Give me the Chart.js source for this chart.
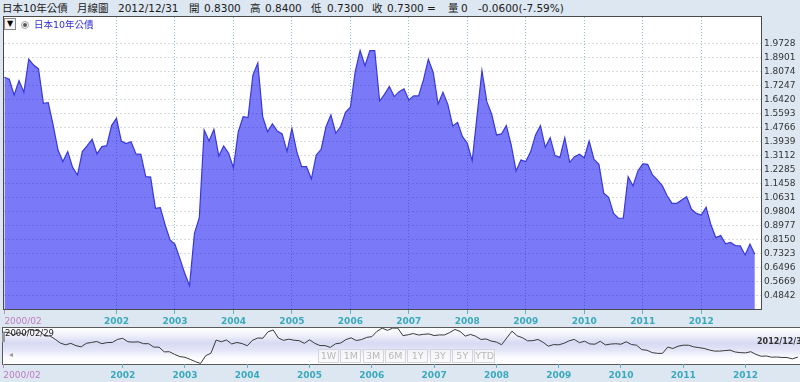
<!DOCTYPE html>
<html>
<head>
<meta charset="utf-8">
<script src="https://cdn.jsdelivr.net/npm/chart.js@4.4.0/dist/chart.umd.min.js"></script>
<style>
  body { margin: 0; width: 800px; height: 382px; overflow: hidden; position: relative;
         background: #dde7f1; font-family: 'DejaVu Sans', 'Noto Sans CJK TC', sans-serif; }
  .abs { position: absolute; white-space: nowrap; }
  #head span { position: absolute; top: 0; line-height: 17px; font-size: 10.5px; color: #1a1a1a; }
  #main { position: absolute; left: 0; top: 0; }
  #navBox { position: absolute; left: 2px; top: 327px; width: 800px; height: 36px; border: 1px solid #5a5a5a;
            background: linear-gradient(to bottom, #ffffff 0%, #f2f3fb 18%, #d6daf3 42%, #e4e6f7 62%, #fbfbfe 82%, #ffffff 100%); }
  #nav { position: absolute; left: 0; top: 326px; }
  .btn { position: absolute; top: 349px; width: 19px; height: 12px; border: 1px solid #d2d6dc; background: rgba(248,248,250,0.7);
         color: #b8b8b8; font-size: 9.5px; line-height: 12px; text-align: center; }
</style>
</head>
<body>
<div id="head"></div>
<canvas id="main" width="800" height="332"></canvas>

<!-- leyenda -->
<div class="abs" style="left:4px;top:18px;width:10px;height:10px;border:1px solid #8a8a8a;background:#f4f4f4;font-size:8px;line-height:10px;text-align:center;color:#000;">▼</div>
<div class="abs" style="left:21px;top:21px;width:6px;height:6px;border:1px solid #a0a0a0;border-radius:50%;background:#fff;"></div>
<div class="abs" style="left:23px;top:23px;width:4px;height:4px;border-radius:50%;background:#555;"></div>
<div class="abs" id="legendText" style="left:34px;top:18px;font-size:9.5px;line-height:14px;color:#2f2fd0;"></div>

<!-- navegador -->
<div id="navBox"></div>
<canvas id="nav" width="800" height="56"></canvas>
<div class="abs" id="navStart" style="left:5px;top:328px;font-size:8.5px;color:#222;"></div>
<div class="abs" id="navEnd" style="left:757px;top:337px;font-size:8px;font-weight:bold;color:#333;"></div>
<div class="abs" style="left:2px;top:333px;width:3px;height:9px;background:#999;"></div>
<div class="abs" style="left:9px;top:350px;font-size:8px;color:#999;">◂</div>
<div id="buttons"></div>

<script>
// Datos del gráfico
const seriesName = '日本10年公債';
const firstMonth = '2000/02';
const startDate = '2000/02/29';
const endDate = '2012/12/31';
const yearTicks = [2002, 2003, 2004, 2005, 2006, 2007, 2008, 2009, 2010, 2011, 2012];
const yTickValues = [0.4842, 0.5669, 0.6496, 0.7323, 0.8150, 0.8977, 0.9804, 1.0631, 1.1458,
  1.2285, 1.3112, 1.3939, 1.4766, 1.5593, 1.6420, 1.7247, 1.8074, 1.8901, 1.9728];
const rangeButtons = ['1W', '1M', '3M', '6M', '1Y', '3Y', '5Y', 'YTD'];

// Cierre mensual (2000/02 .. 2012/12)
const monthlyClose = [
  1.773, 1.761, 1.668, 1.753, 1.684, 1.879, 1.845, 1.822, 1.619, 1.623, 1.492,
  1.344, 1.276, 1.335, 1.242, 1.197, 1.335, 1.370, 1.407, 1.321, 1.364, 1.370, 1.488,
  1.531, 1.397, 1.382, 1.393, 1.321, 1.319, 1.187, 1.185, 1.001, 1.005, 0.902, 0.814,
  0.789, 0.706, 0.618, 0.545, 0.853, 0.946, 1.462, 1.397, 1.466, 1.309, 1.368, 1.325,
  1.240, 1.452, 1.541, 1.535, 1.786, 1.857, 1.541, 1.452, 1.498, 1.456, 1.439, 1.335,
  1.472, 1.335, 1.246, 1.246, 1.174, 1.315, 1.348, 1.482, 1.551, 1.443, 1.482, 1.566,
  1.596, 1.806, 1.930, 1.841, 1.930, 1.930, 1.633, 1.672, 1.718, 1.659, 1.688, 1.704,
  1.639, 1.663, 1.663, 1.757, 1.879, 1.802, 1.615, 1.684, 1.613, 1.486, 1.507, 1.423,
  1.384, 1.280, 1.547, 1.812, 1.629, 1.555, 1.433, 1.439, 1.488, 1.374, 1.221, 1.285,
  1.276, 1.335, 1.433, 1.488, 1.360, 1.417, 1.311, 1.301, 1.417, 1.272, 1.305, 1.319,
  1.299, 1.397, 1.289, 1.260, 1.089, 1.065, 0.971, 0.942, 0.942, 1.187, 1.132, 1.221,
  1.262, 1.260, 1.197, 1.168, 1.134, 1.075, 1.030, 1.030, 1.050, 1.069, 0.995, 0.971,
  0.961, 1.007, 0.902, 0.828, 0.840, 0.791, 0.800, 0.781, 0.779, 0.726, 0.789, 0.730
];

// Cabecera
const headTokens = [
  ['日本10年公債', 2], ['月線圖', 77], ['2012/12/31', 118], ['開', 189], ['0.8300', 204],
  ['高', 250], ['0.8400', 265], ['低', 311], ['0.7300', 327], ['收', 372], ['0.7300 =', 387],
  ['量', 448], ['0', 461], ['-0.0600(-7.59%)', 478]
];

Chart.defaults.font.family = "'DejaVu Sans', 'Noto Sans CJK TC', sans-serif";

document.getElementById('head').innerHTML = headTokens
  .map(t => `<span style="left:${t[1]}px">${t[0]}</span>`).join('');
document.getElementById('legendText').textContent = seriesName;
document.getElementById('navStart').textContent = startDate;
document.getElementById('navEnd').textContent = endDate;
document.getElementById('buttons').innerHTML = rangeButtons
  .map((b, k) => `<div class="btn" style="left:${318 + k * 22.3}px">${b}</div>`).join('');

// Índices de meses para el eje X
const monthIndex = y => (y - 2000) * 12 - 1;
const points = monthlyClose.map((v, i) => ({ x: i, y: v }));

function xTicks(max) {
  const vals = [0].concat(yearTicks.map(monthIndex), [max]);
  const labels = [firstMonth].concat(yearTicks.map(String), ['']);
  return { vals, labels };
}

function xAxis(min, max, height, gridOn) {
  const t = xTicks(max);
  const last = t.vals.length - 1;
  return {
    type: 'linear', min, max,
    afterBuildTicks: s => { s.ticks = t.vals.map(v => ({ value: v })); },
    afterFit: s => { s.height = height; },
    border: { display: false, dash: [1, 2] },
    grid: {
      drawOnChartArea: gridOn,
      color: c => (c.index === 0 || c.index === last) ? 'rgba(0,0,0,0)' : '#8cc3d6',
      tickLength: 4,
      tickColor: c => c.index === last ? 'rgba(0,0,0,0)' : (c.index === 0 ? '#c58ac5' : '#5ab6c6')
    },
    ticks: {
      autoSkip: false, maxRotation: 0, align: 'inner', padding: 2,
      color: c => c.index === 0 ? '#c07ac0' : '#3aa9bd',
      font: c => ({ size: 9, weight: c.index === 0 ? 'normal' : 'bold' }),
      callback: (v, i) => t.labels[i]
    }
  };
}

// Marco del área de trazado
const framePlugin = {
  id: 'frame',
  afterDatasetsDraw(chart) {
    const a = chart.chartArea, ctx = chart.ctx;
    ctx.save();
    ctx.strokeStyle = '#4a4a4a';
    ctx.lineWidth = 1;
    ctx.strokeRect(a.left - 0.5, a.top - 0.5, a.right - a.left, a.bottom - a.top);
    ctx.restore();
  }
};

// Fondo blanco del área
const areaBg = {
  id: 'areaBg',
  beforeDraw(chart) {
    const a = chart.chartArea, ctx = chart.ctx;
    ctx.save();
    ctx.fillStyle = '#ffffff';
    ctx.fillRect(a.left, a.top, a.right - a.left, a.bottom - a.top);
    ctx.restore();
  }
};

// Gráfica principal
new Chart(document.getElementById('main'), {
  type: 'line',
  data: {
    datasets: [{
      label: seriesName,
      data: points,
      borderColor: '#3838d8',
      borderWidth: 1.2,
      backgroundColor: 'rgba(0,0,242,0.52)',
      fill: 'start',
      pointRadius: 0,
      tension: 0
    }]
  },
  options: {
    responsive: false, animation: false, devicePixelRatio: 1,
    layout: { padding: { left: 4, top: 17, right: 0, bottom: 0 } },
    plugins: { legend: { display: false }, tooltip: { enabled: false } },
    scales: {
      x: xAxis(-0.08, 155.47, 22, true),
      y: {
        position: 'right', min: 0.4015, max: 2.128,
        afterBuildTicks: s => { s.ticks = yTickValues.map(v => ({ value: v })); },
        afterFit: s => { s.width = 38; },
        border: { display: false, dash: [2, 2] },
        grid: { color: '#dadada', drawTicks: false },
        ticks: { padding: 2, color: '#333', font: { size: 9 }, callback: v => v.toFixed(4) }
      }
    }
  },
  plugins: [areaBg, framePlugin]
});

// Navegador inferior
new Chart(document.getElementById('nav'), {
  type: 'line',
  data: {
    datasets: [{
      data: points,
      borderColor: '#3a3a3a',
      borderWidth: 1,
      fill: false,
      pointRadius: 0,
      tension: 0
    }]
  },
  options: {
    responsive: false, animation: false, devicePixelRatio: 1,
    layout: { padding: { left: 3, top: 2, right: 0, bottom: 0 } },
    plugins: { legend: { display: false }, tooltip: { enabled: false } },
    scales: {
      x: xAxis(-0.06, 153.1, 18, false),
      y: { display: false, min: 0.525, max: 1.935 }
    }
  }
});
</script>
</body>
</html>
